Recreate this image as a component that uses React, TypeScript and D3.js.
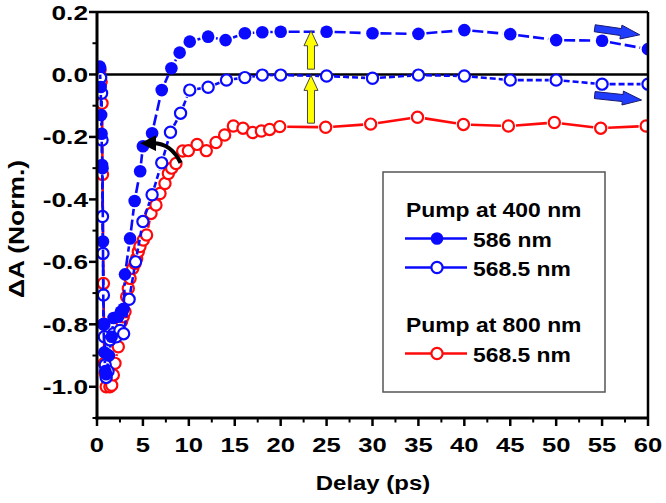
import React from 'react';
import * as d3 from 'd3';

// ---- data ----
const delay586 = [0.3, 0.4, 0.45, 0.5, 0.55, 0.6, 0.65, 0.7, 0.8, 0.9, 1.0, 1.3, 1.6, 1.8, 2.3, 2.6, 2.9, 3.05, 3.6, 4.1, 4.7, 5.0, 6.0, 7.05, 8.1, 9.0, 10.1, 12.1, 14.0, 16.1, 18.0, 20.0, 25, 30, 35, 40, 45, 50, 55, 60];
const dA586 = [0.025, -0.04, -0.13, -0.19, -0.29, -0.3, -0.535, -0.8, -0.89, -0.95, -0.96, -0.9, -0.84, -0.78, -0.776, -0.76, -0.75, -0.64, -0.525, -0.405, -0.31, -0.23, -0.188, -0.05, 0.02, 0.07, 0.105, 0.121, 0.11, 0.132, 0.135, 0.137, 0.137, 0.132, 0.13, 0.142, 0.129, 0.11, 0.108, 0.081];

const delay568a = [0.3, 0.4, 0.5, 0.55, 0.6, 0.65, 0.7, 0.75, 0.8, 0.9, 1.0, 1.2, 1.4, 1.8, 2.1, 2.5, 2.9, 3.5, 4.2, 5.0, 6.0, 7.05, 8.0, 9.1, 10.1, 12.1, 14.1, 16.1, 18, 20, 25, 30, 35, 40, 45, 50, 55, 60];
const dA568a = [0.02, -0.01, -0.06, -0.21, -0.455, -0.573, -0.706, -0.8, -0.84, -0.93, -0.97, -0.95, -0.85, -0.83, -0.84, -0.82, -0.83, -0.72, -0.6, -0.471, -0.385, -0.283, -0.185, -0.124, -0.05, -0.041, -0.018, -0.01, -0.002, -0.002, -0.005, -0.012, -0.002, -0.005, -0.018, -0.018, -0.031, -0.031];

const delay568b = [0.33, 0.45, 0.55, 0.6, 0.7, 0.8, 0.9, 1.0, 1.4, 1.5, 1.6, 1.78, 1.96, 2.32, 2.5, 2.68, 2.86, 3.05, 3.23, 3.41, 3.6, 3.89, 4.14, 4.32, 4.5, 4.68, 5.04, 5.4, 5.88, 6.42, 6.86, 7.4, 7.77, 8.13, 8.6, 9.33, 9.95, 10.9, 11.9, 12.96, 13.9, 14.85, 15.9, 16.95, 17.9, 18.8, 19.9, 24.9, 29.8, 34.9, 39.9, 44.8, 49.8, 54.85, 59.8];
const dA568b = [0.014, -0.023, -0.092, -0.32, -0.669, -0.925, -0.957, -1.0, -1.0, -0.968, -0.995, -0.962, -0.925, -0.872, -0.824, -0.79, -0.776, -0.76, -0.712, -0.685, -0.653, -0.621, -0.605, -0.589, -0.567, -0.551, -0.53, -0.514, -0.445, -0.418, -0.381, -0.349, -0.317, -0.3, -0.285, -0.245, -0.244, -0.224, -0.244, -0.218, -0.194, -0.165, -0.172, -0.186, -0.181, -0.176, -0.167, -0.169, -0.159, -0.137, -0.16, -0.165, -0.154, -0.172, -0.165];

const xTickValues = [0, 5, 10, 15, 20, 25, 30, 35, 40, 45, 50, 55, 60];
const yTickValues = [0.2, 0.0, -0.2, -0.4, -0.6, -0.8, -1.0];
const legendGroups = ['Pump at 400 nm', 'Pump at 800 nm'];
const legendLabels = ['586 nm', '568.5 nm', '568.5 nm'];

const FONT = "'Liberation Sans', Arial, sans-serif";
const BLUE = '#0a0aff';
const RED = '#ff0a0a';

function T({ x, y, sx = 1, size = 21, anchor = 'start', rot = 0, dy, children }: any) {
  return (
    <g transform={`translate(${x},${y}) rotate(${rot}) scale(${sx},1)`}>
      <text textAnchor={anchor} fontSize={size} fontWeight="bold" fontFamily={FONT} dy={dy} fill="#000">
        {children}
      </text>
    </g>
  );
}

function blockArrow(x1: number, y1: number, x2: number, y2: number, sw: number, hw: number, hl: number) {
  const dx = x2 - x1, dy = y2 - y1;
  const L = Math.hypot(dx, dy);
  const ux = dx / L, uy = dy / L;
  const px = -uy, py = ux;
  const bx = x2 - ux * hl, by = y2 - uy * hl;
  const pts = [
    [x1 + px * sw / 2, y1 + py * sw / 2],
    [bx + px * sw / 2, by + py * sw / 2],
    [bx + px * hw / 2, by + py * hw / 2],
    [x2, y2],
    [bx - px * hw / 2, by - py * hw / 2],
    [bx - px * sw / 2, by - py * sw / 2],
    [x1 - px * sw / 2, y1 - py * sw / 2],
  ];
  return pts.map((p) => p.join(',')).join(' ');
}

export default function App() {
  const W = 666, H = 503;
  const x = d3.scaleLinear().domain([0, 60]).range([97, 648]);
  const y = d3.scaleLinear().domain([-1.1, 0.2]).range([418, 12]);

  const segs = (xs: number[], ys: number[], gap: number) => {
    const out: number[][] = [];
    for (let i = 0; i < xs.length - 1; i++) {
      const ax = x(xs[i]), ay = y(ys[i]), bx = x(xs[i + 1]), by = y(ys[i + 1]);
      const L = Math.hypot(bx - ax, by - ay);
      if (L <= 2 * gap + 1) continue;
      const ux = (bx - ax) / L, uy = (by - ay) / L;
      out.push([ax + ux * gap, ay + uy * gap, bx - ux * gap, by - uy * gap]);
    }
    return out;
  };

  const xMinor = d3.range(2.5, 60, 5);
  const yMinor = d3.range(-1.1, 0.2, 0.2).map((v) => +v.toFixed(2));

  const series = [
    { xs: delay568b, ys: dA568b, color: RED, filled: false, dash: undefined },
    { xs: delay568a, ys: dA568a, color: BLUE, filled: false, dash: '6,3' },
    { xs: delay586, ys: dA586, color: BLUE, filled: true, dash: '11,4' },
  ];

  // annotation anchors in data space
  const yArrowX = 23.3;
  const curve = { s: [9.1, -0.283], c: [8.1, -0.22], e: [6.1, -0.22] };

  return (
    <svg width={W} height={H} style={{ position: 'absolute', left: 0, top: 0, background: '#fff' }}>
      <defs>
        <clipPath id="plot">
          <rect x={x(0)} y={y(0.2)} width={x(60) - x(0)} height={y(-1.1) - y(0.2)} />
        </clipPath>
        <marker id="ah" viewBox="0 0 10 10" refX="2" refY="5" markerWidth="4" markerHeight="4" orient="auto">
          <path d="M0,0 L10,5 L0,10 z" fill="#000" />
        </marker>
      </defs>
      <rect width={W} height={H} fill="#fff" />

      {/* zero line */}
      <line x1={x(0)} x2={x(60)} y1={y(0)} y2={y(0)} stroke="#000" strokeWidth={2.5} />

      <g clipPath="url(#plot)">
        {series.map((s, si) => (
          <g key={si}>
            {segs(s.xs, s.ys, s.filled ? 8 : 7.5).map((g, i) => (
              <line key={i} x1={g[0]} y1={g[1]} x2={g[2]} y2={g[3]} stroke={s.color} strokeWidth={2.6} strokeDasharray={s.dash} />
            ))}
            {s.xs.map((v, i) => (
              <circle key={i} cx={x(v)} cy={y(s.ys[i])} r={s.filled ? 6.3 : 5.6}
                fill={s.filled ? s.color : '#fff'} stroke={s.color} strokeWidth={s.filled ? 0 : 2.2} />
            ))}
          </g>
        ))}
      </g>

      {/* yellow arrows */}
      <polygon points={blockArrow(x(yArrowX), y(0.017), x(yArrowX), y(0.14), 7, 14, 15)} fill="#ffff00" stroke="#444" strokeWidth={1} />
      <polygon points={blockArrow(x(yArrowX), y(-0.156), x(yArrowX), y(-0.003), 7, 14, 15)} fill="#ffff00" stroke="#444" strokeWidth={1} />

      {/* blue arrows */}
      <polygon points={blockArrow(x(54.2), y(0.148), x(59.1), y(0.127), 7, 14, 19)} fill="#1f3cff" stroke="#1a1a70" strokeWidth={1} />
      <polygon points={blockArrow(x(54.2), y(-0.066), x(59.3), y(-0.082), 7, 14, 19)} fill="#1f3cff" stroke="#1a1a70" strokeWidth={1} />

      {/* black curved arrow */}
      <path d={`M${x(curve.s[0])},${y(curve.s[1])} Q${x(curve.c[0])},${y(curve.c[1])} ${x(curve.e[0])},${y(curve.e[1])}`}
        fill="none" stroke="#000" strokeWidth={4} markerEnd="url(#ah)" />

      {/* frame */}
      <line x1={x(0)} x2={x(60)} y1={y(0.2)} y2={y(0.2)} stroke="#000" strokeWidth={2.5} />
      <line x1={x(60)} x2={x(60)} y1={y(0.2)} y2={y(-1.1)} stroke="#000" strokeWidth={2.5} />
      <line x1={x(0)} x2={x(0)} y1={y(0.2) - 1} y2={y(-1.1) + 1.5} stroke="#000" strokeWidth={3} />
      <line x1={x(0) - 1.5} x2={x(60) + 1} y1={y(-1.1)} y2={y(-1.1)} stroke="#000" strokeWidth={3} />

      {/* x ticks */}
      {xTickValues.map((v) => (
        <g key={'xt' + v}>
          <line x1={x(v)} x2={x(v)} y1={y(-1.1)} y2={y(-1.1) + 8} stroke="#000" strokeWidth={2.5} />
          <T x={x(v)} y={452} sx={1.22} anchor="middle">{String(v)}</T>
        </g>
      ))}
      {xMinor.map((v) => (
        <line key={'xm' + v} x1={x(v)} x2={x(v)} y1={y(-1.1)} y2={y(-1.1) + 4.5} stroke="#000" strokeWidth={2} />
      ))}
      {/* y ticks */}
      {yTickValues.map((v) => (
        <g key={'yt' + v}>
          <line x1={x(0) - 8} x2={x(0)} y1={y(v)} y2={y(v)} stroke="#000" strokeWidth={2.5} />
          <T x={88} y={y(v)} sx={1.25} anchor="end" dy="0.36em">{v.toFixed(1)}</T>
        </g>
      ))}
      {yMinor.map((v) => (
        <line key={'ym' + v} x1={x(0) - 4.5} x2={x(0)} y1={y(v)} y2={y(v)} stroke="#000" strokeWidth={2} />
      ))}

      {/* axis titles */}
      <T x={373} y={490} sx={1.14} anchor="middle">Delay (ps)</T>
      <T x={24} y={229} rot={-90} sx={1.2} size={22} anchor="middle">ΔA (Norm.)</T>

      {/* legend */}
      <rect x={383} y={172} width={222} height={220} fill="#fff" stroke="#555" strokeWidth={1.5} />
      <T x={406} y={217} sx={1.09}>{legendGroups[0]}</T>
      <line x1={405} x2={467} y1={238.5} y2={238.5} stroke={BLUE} strokeWidth={2.6} />
      <circle cx={437} cy={238.5} r={6.3} fill={BLUE} />
      <T x={473} y={246.5} sx={1.09}>{legendLabels[0]}</T>
      <line x1={405} x2={467} y1={267.5} y2={267.5} stroke={BLUE} strokeWidth={2.6} />
      <circle cx={437} cy={267.5} r={5.6} fill="#fff" stroke={BLUE} strokeWidth={2.2} />
      <T x={473} y={275.5} sx={1.09}>{legendLabels[1]}</T>
      <T x={406} y={332} sx={1.09}>{legendGroups[1]}</T>
      <line x1={405} x2={467} y1={353.5} y2={353.5} stroke={RED} strokeWidth={2.6} />
      <circle cx={437} cy={353.5} r={5.6} fill="#fff" stroke={RED} strokeWidth={2.2} />
      <T x={473} y={361.5} sx={1.09}>{legendLabels[2]}</T>
    </svg>
  );
}
